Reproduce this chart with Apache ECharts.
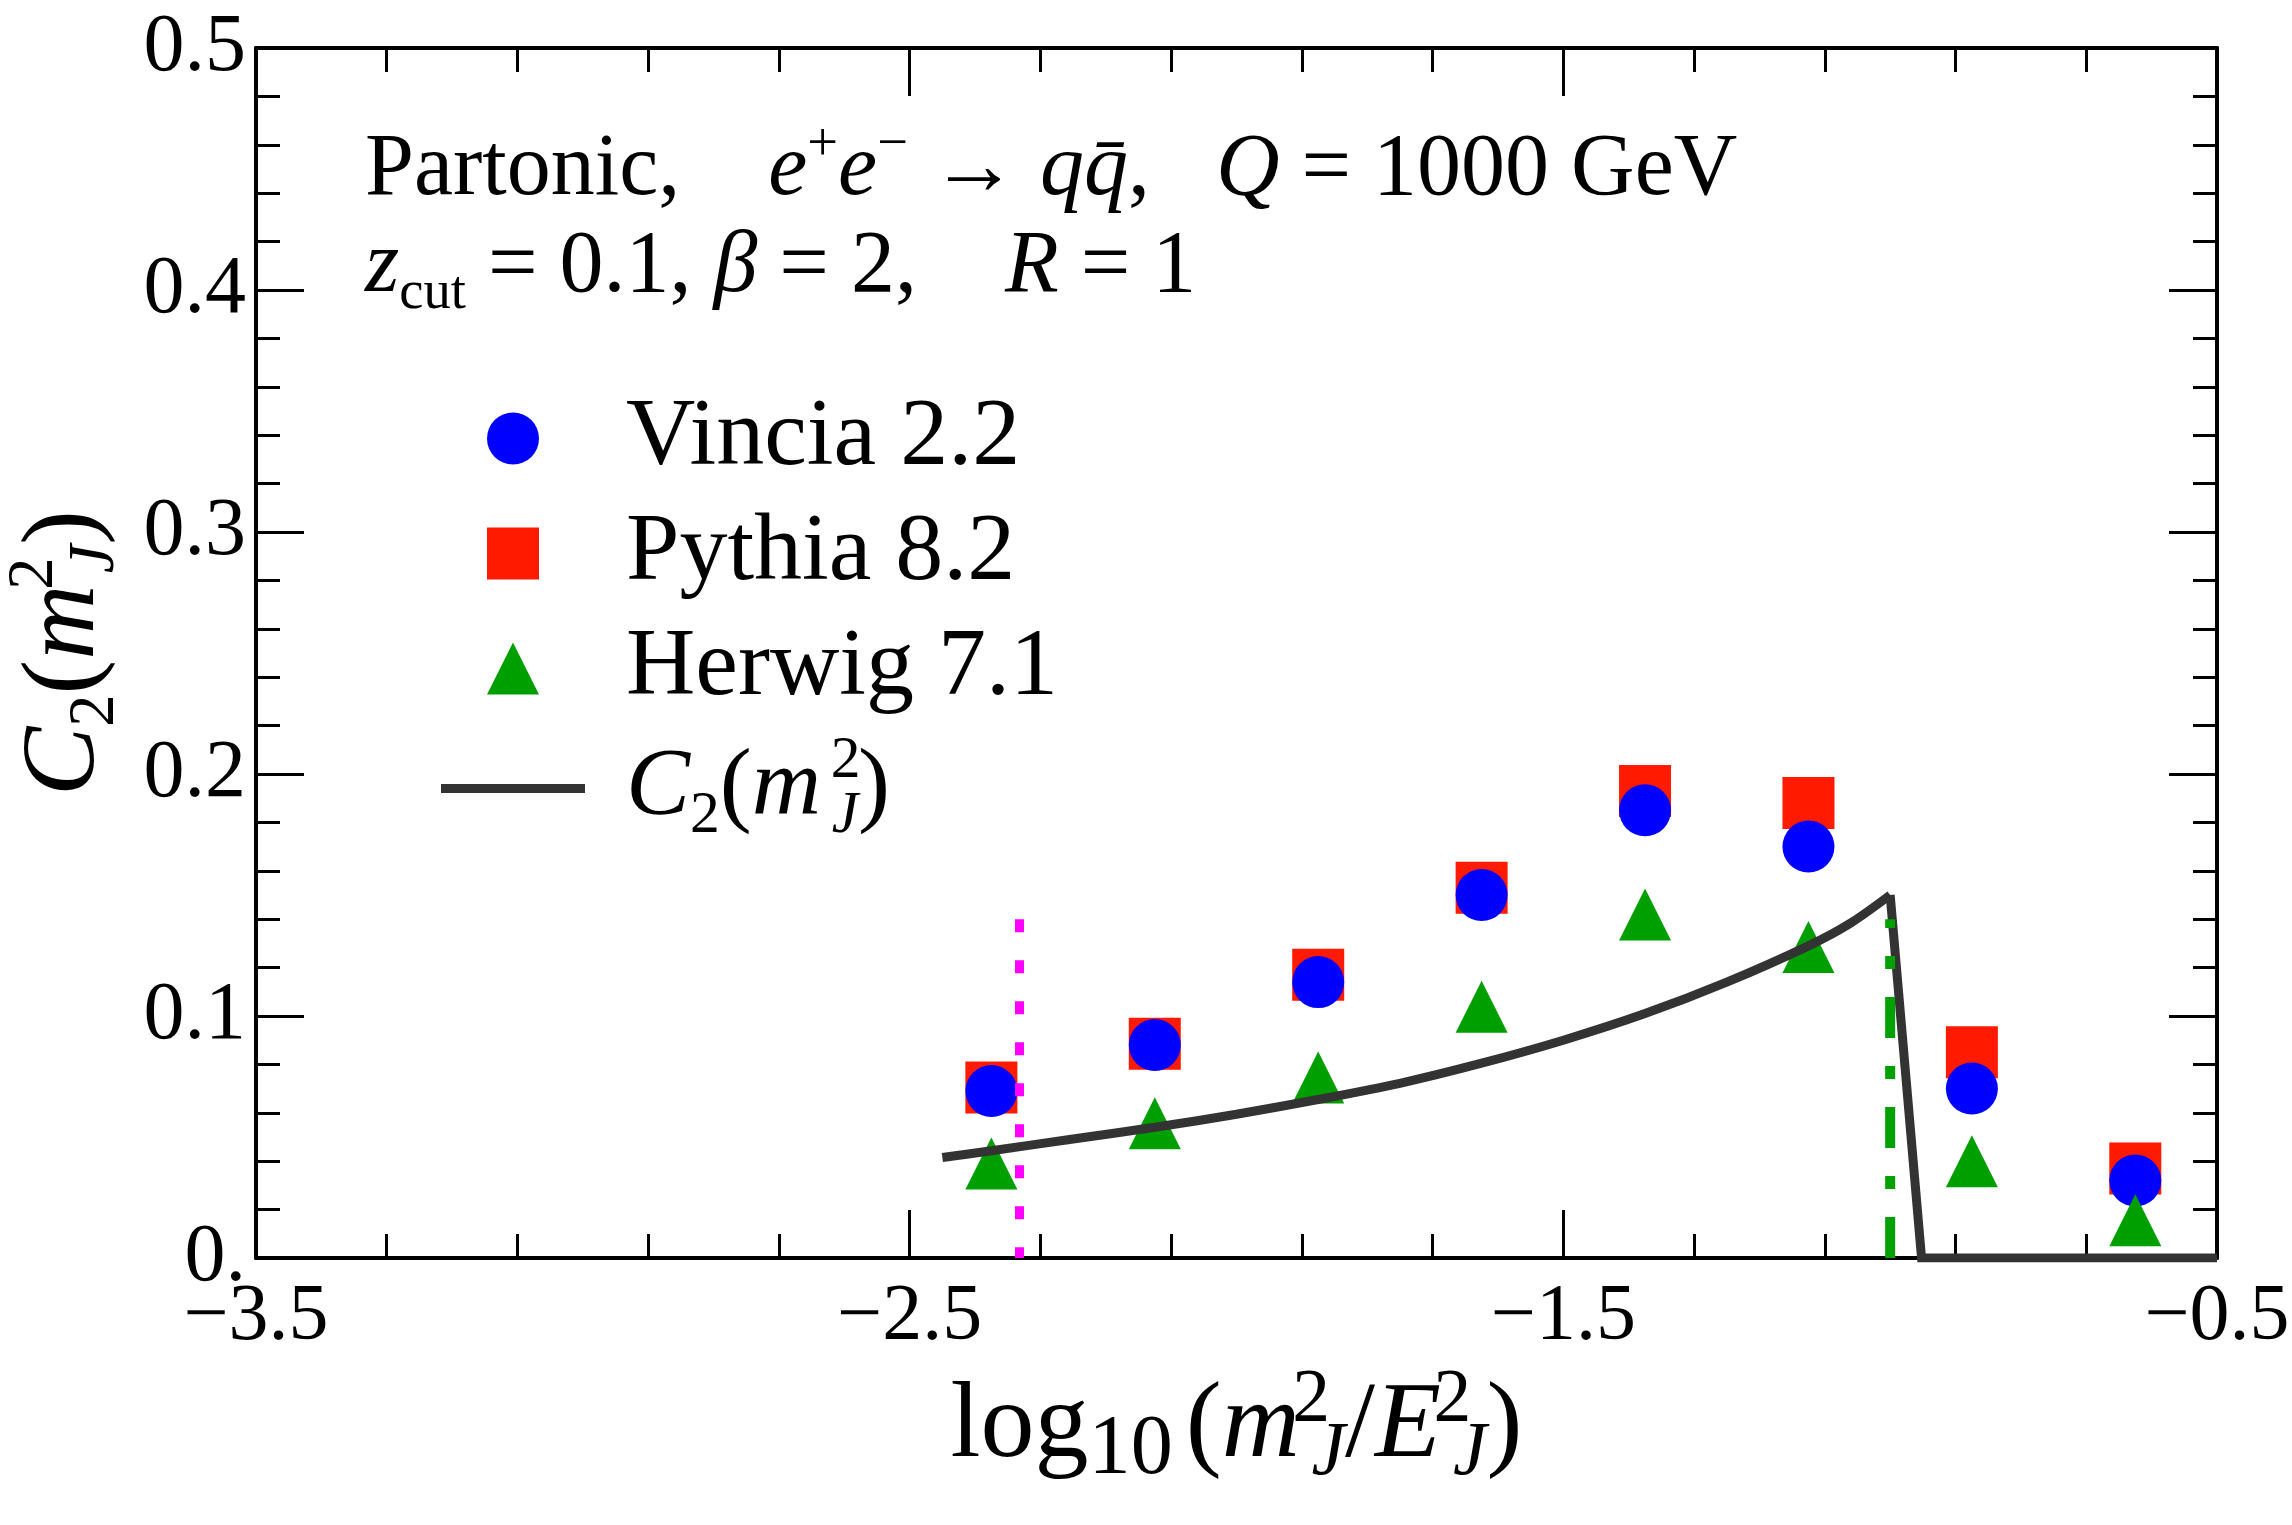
<!DOCTYPE html>
<html><head><meta charset="utf-8">
<script src="https://cdn.jsdelivr.net/npm/echarts@6/dist/echarts.min.js"></script>
<style>html,body{margin:0;padding:0;background:#fff}#c{width:2292px;height:1525px}</style>
</head><body><div id="c"></div>
<script>
// ---- data ----
const binCenters = [-2.375, -2.125, -1.875, -1.625, -1.375, -1.125, -0.875, -0.625];
const vincia = [0.069, 0.088, 0.114, 0.150, 0.185, 0.170, 0.070, 0.032];
const pythia = [0.0705, 0.0885, 0.117, 0.153, 0.193, 0.188, 0.085, 0.037];
const herwig = [0.039, 0.0557, 0.0746, 0.1038, 0.1419, 0.1285, 0.040, 0.0156];
const c2X = [-2.45, -2.375, -2.25, -2.125, -2.0, -1.875, -1.75, -1.625, -1.5, -1.375, -1.25, -1.125, -1.06, -1.0, -0.952, -0.5];
const c2Y = [0.0415, 0.0443, 0.0492, 0.0540, 0.0594, 0.0655, 0.0722, 0.0805, 0.0900, 0.1010, 0.1140, 0.1290, 0.1385, 0.1500, 0.0, 0.0];
const c2PeakIndex = 13;
const magentaX = -2.332;
const magentaY = [0.14, 0.0];
const greenX = -1.0;
const greenY = [0.0, 0.14];
const xTickLabels = [-3.5, -2.5, -1.5, -0.5];
const xMajorTicks = [-2.5, -1.5];
const xMinorTicks = [-3.3, -3.1, -2.9, -2.7, -2.3, -2.1, -1.9, -1.7, -1.3, -1.1, -0.9, -0.7];
const yTickLabels = ['0.', '0.1', '0.2', '0.3', '0.4', '0.5'];

const SERIF = "'Liberation Serif','Times New Roman',serif";
function richSet(F, r) {
  const s = (r || 0.62) * F;
  return {
    rm: { fontFamily: SERIF, fontSize: F, lineHeight: 1.2 * F, color: '#000' },
    it: { fontFamily: SERIF, fontSize: F, fontStyle: 'italic', lineHeight: 1.2 * F, color: '#000' },
    lp: { fontFamily: SERIF, fontSize: F, lineHeight: 1.2 * F, color: '#000', padding: [0, 0, 0, 0.12 * F] },
    sup: { fontFamily: SERIF, fontSize: s, lineHeight: s, verticalAlign: 'top', color: '#000' },
    sub: { fontFamily: SERIF, fontSize: s, lineHeight: s, verticalAlign: 'bottom', color: '#000' },
    sub10: { fontFamily: SERIF, fontSize: 0.78 * F, lineHeight: 0.78 * F, verticalAlign: 'bottom', color: '#000' },
    supz: { fontFamily: SERIF, fontSize: s, lineHeight: s, verticalAlign: 'top', width: 1, align: 'left', color: '#000', padding: [0, 0, 0, 0.1 * F] },
    subit: { fontFamily: SERIF, fontSize: s, fontStyle: 'italic', lineHeight: s, verticalAlign: 'bottom', color: '#000' }
  };
}
const C2LABEL = '{it|C}{sub|2}{rm|(}{it|m}{supz|2}{subit|J}{rm|)}';

const chart = echarts.init(document.getElementById('c'), null, { renderer: 'canvas' });
const axisLineStyle = { color: '#000', width: 4 };
const tickStyle = { color: '#000', width: 3 };
const fmtX = v => (v < 0 ? '\u2212' : '') + Math.abs(v).toFixed(1);

function xAxisDef(pos, ticks, len, main) {
  return {
    type: 'value', min: -3.5, max: -0.5, position: pos,
    axisLine: { show: main, onZero: false, lineStyle: axisLineStyle },
    axisTick: { show: true, inside: true, length: len, lineStyle: tickStyle, customValues: ticks },
    axisLabel: (main && pos === 'bottom') ? {
      show: true, customValues: xTickLabels, formatter: fmtX, margin: 20,
      color: '#000', fontFamily: SERIF, fontSize: 80
    } : { show: false },
    splitLine: { show: false }
  };
}
const xAxes = [
  Object.assign(xAxisDef('bottom', xMajorTicks, 48, true), {
    name: '{rm|log}{sub10|10}{lp|(}{it|m}{supz|2}{subit|J}{rm|/}{it|E}{supz|2}{subit|J}{rm|)}',
    nameLocation: 'middle', nameGap: 104,
    nameTextStyle: { rich: richSet(108, 0.7) }
  }),
  xAxisDef('bottom', xMinorTicks, 24, false),
  xAxisDef('top', xMajorTicks, 48, true),
  xAxisDef('top', xMinorTicks, 24, false)
];
function yAxisDef(pos, main) {
  return {
    type: 'value', min: 0, max: 0.5, interval: 0.1, position: pos,
    axisLine: { show: true, onZero: false, lineStyle: axisLineStyle },
    axisTick: { show: true, inside: true, length: 48, lineStyle: tickStyle },
    minorTick: { show: true, splitNumber: 5, length: 24, lineStyle: tickStyle },
    axisLabel: main ? {
      show: true, margin: 10, color: '#000', fontFamily: SERIF, fontSize: 82,
      showMinLabel: true, showMaxLabel: true,
      formatter: v => yTickLabels[Math.round(v * 10)]
    } : { show: false },
    splitLine: { show: false }, minorSplitLine: { show: false }
  };
}
const yAxes = [
  Object.assign(yAxisDef('left', true), {
    name: C2LABEL, nameLocation: 'middle', nameRotate: 90, nameGap: 128,
    nameTextStyle: { rich: richSet(104) }
  }),
  yAxisDef('right', false)
];

const legendText = { fontFamily: SERIF, fontSize: 96, lineHeight: 115, color: '#000', rich: richSet(96) };

const option = {
  animation: false,
  backgroundColor: '#fff',
  grid: { left: 256, right: 75, top: 48, bottom: 267, containLabel: false, outerBoundsMode: 'none' },
  xAxis: xAxes,
  yAxis: yAxes,
  legend: [
    {
      data: ['Vincia 2.2', 'Pythia 8.2', 'Herwig 7.1'],
      orient: 'vertical', left: 487, top: 381, padding: 0,
      itemWidth: 52, itemHeight: 52, itemGap: 0,
      textStyle: Object.assign({ padding: [0, 0, 0, 82] }, legendText)
    },
    {
      data: [{ name: 'C2', icon: 'rect' }],
      orient: 'vertical', left: 441, top: 731, padding: 0,
      itemWidth: 144, itemHeight: 9, itemGap: 0,
      formatter: () => C2LABEL,
      textStyle: Object.assign({ padding: [0, 0, 0, 36] }, legendText)
    }
  ],
  graphic: [
    { type: 'text', left: 365, top: 118, z: 10, style: {
      text: '{rm|Partonic,    }{it|e}{sup|+}{it|e}{sup|\u2212}{rm| \u2192 }{it|q\u0071\u0304}{rm|,   }{it|Q}{rm| = 1000 GeV}',
      rich: richSet(88), fill: '#000' } },
    { type: 'text', left: 365, top: 224, z: 10, style: {
      text: '{it|z}{sub|cut}{rm| = 0.1, }{it|\u03b2}{rm| = 2,    }{it|R}{rm| = 1}',
      rich: richSet(88), fill: '#000' } }
  ],
  series: [
    { name: 'C2', type: 'line', symbol: 'none', showSymbol: false, silent: true, smooth: 0.3,
      data: c2X.slice(0, c2PeakIndex + 1).map((x, i) => [x, c2Y[i]]),
      lineStyle: { color: '#333333', width: 9 }, itemStyle: { color: '#333333' } },
    { name: 'C2', type: 'line', symbol: 'none', showSymbol: false, silent: true,
      data: c2X.slice(c2PeakIndex).map((x, i) => [x, c2Y[c2PeakIndex + i]]),
      lineStyle: { color: '#333333', width: 9, join: 'miter' }, itemStyle: { color: '#333333' } },
    { name: 'Pythia 8.2', type: 'scatter', symbol: 'rect', symbolSize: 52, symbolKeepAspect: true,
      data: binCenters.map((x, i) => [x, pythia[i]]), itemStyle: { color: '#ff1a00', opacity: 1 } },
    { name: 'Vincia 2.2', type: 'scatter', symbol: 'circle', symbolSize: 52, symbolKeepAspect: true,
      data: binCenters.map((x, i) => [x, vincia[i]]), itemStyle: { color: '#0000ff', opacity: 1 } },
    { name: 'Herwig 7.1', type: 'scatter', symbol: 'triangle', symbolSize: 52, symbolKeepAspect: true,
      data: binCenters.map((x, i) => [x, herwig[i]]), itemStyle: { color: '#009f00', opacity: 1 } },
    { name: 'magenta', type: 'line', symbol: 'none', showSymbol: false, silent: true,
      data: magentaY.map(y => [magentaX, y]),
      lineStyle: { color: '#ff00ff', width: 9, type: [13, 28] } },
    { name: 'green', type: 'line', symbol: 'none', showSymbol: false, silent: true,
      data: greenY.map(y => [greenX, y]),
      lineStyle: { color: '#00a000', width: 10, type: [41, 28, 13, 28] } }
  ]
};
chart.setOption(option);
</script></body></html>
